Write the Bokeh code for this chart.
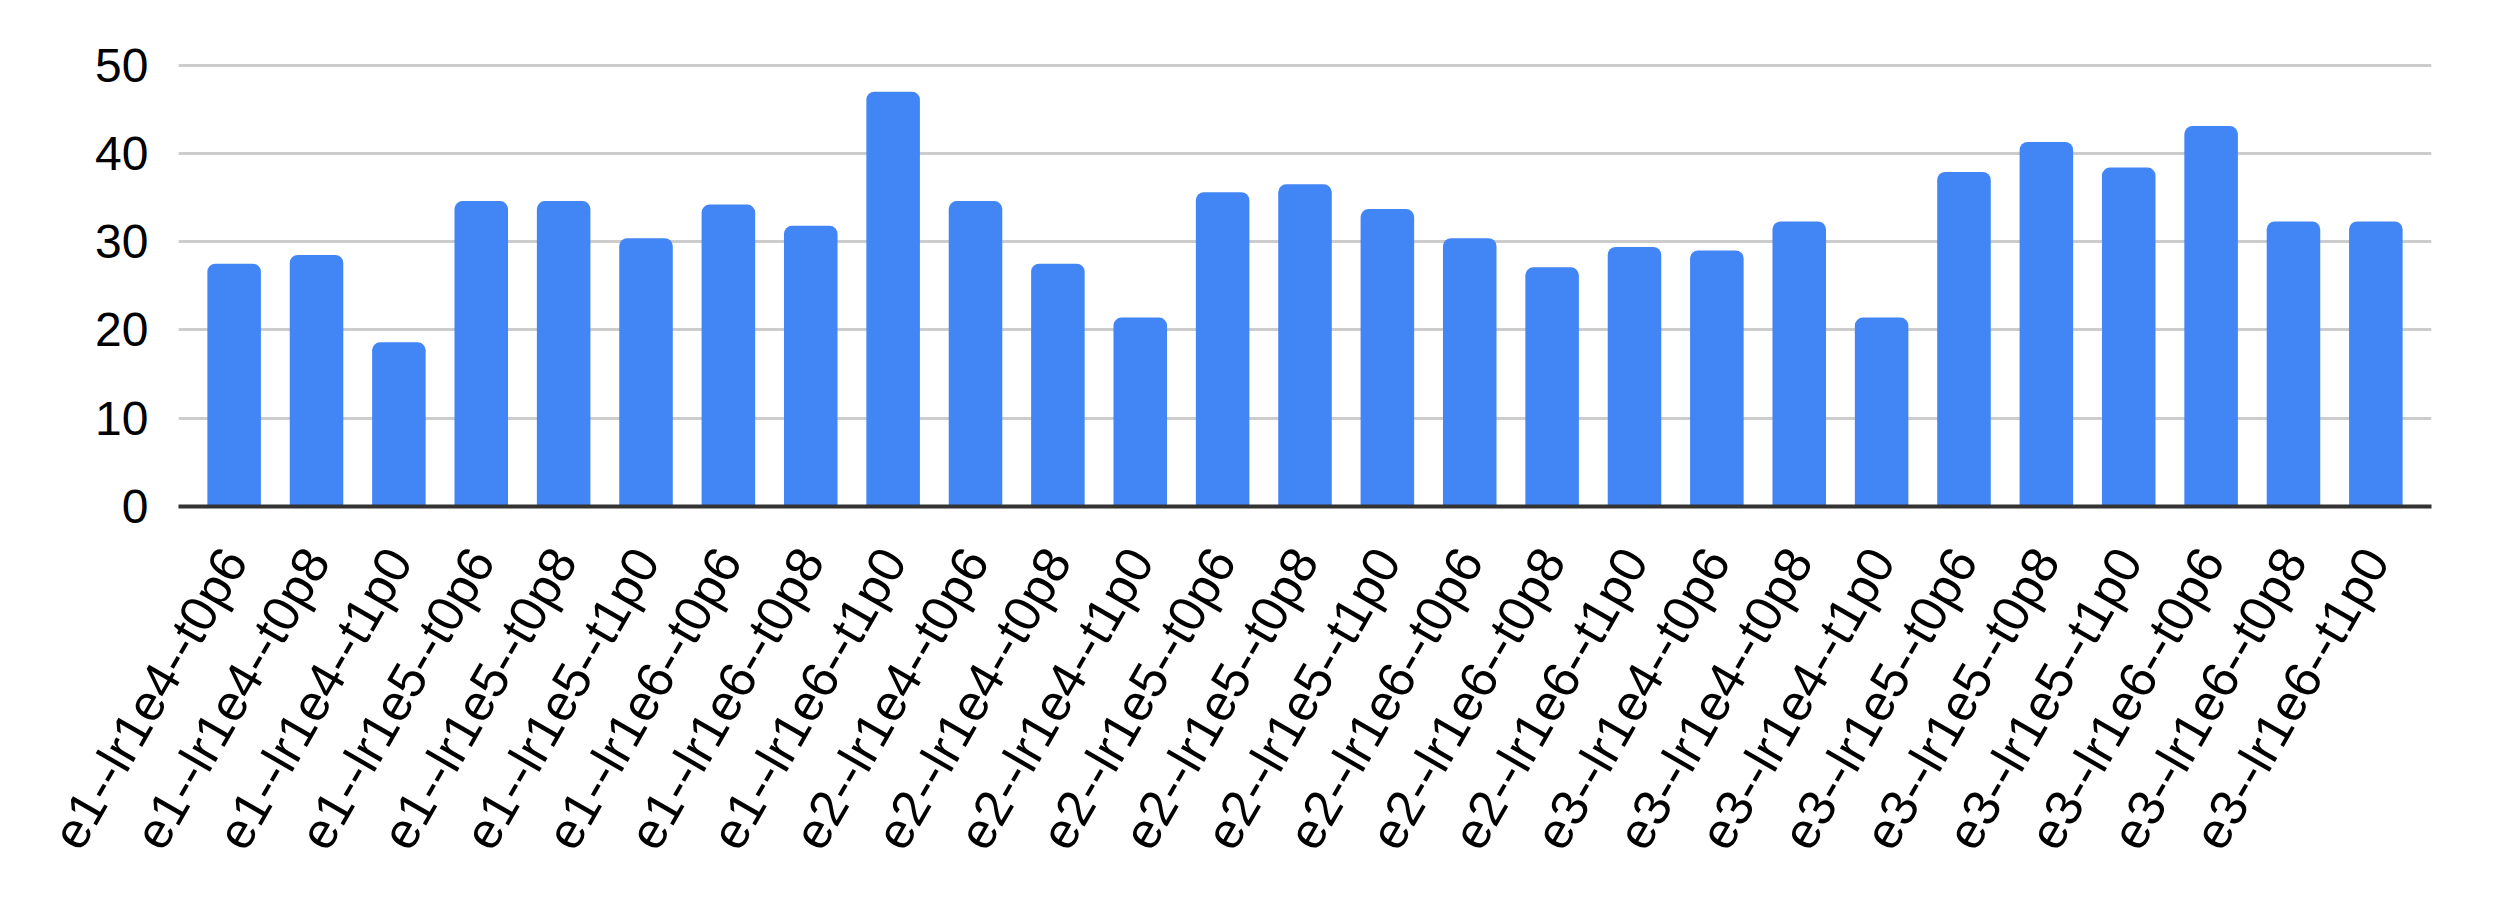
import math
from bokeh.plotting import figure
from bokeh.models import FactorRange, Range1d, FixedTicker
from bokeh.embed import file_html
from bokeh.resources import INLINE

categories = [
    "e1--lr1e4--t0p6", "e1--lr1e4--t0p8", "e1--lr1e4--t1p0",
    "e1--lr1e5--t0p6", "e1--lr1e5--t0p8", "e1--lr1e5--t1p0",
    "e1--lr1e6--t0p6", "e1--lr1e6--t0p8", "e1--lr1e6--t1p0",
    "e2--lr1e4--t0p6", "e2--lr1e4--t0p8", "e2--lr1e4--t1p0",
    "e2--lr1e5--t0p6", "e2--lr1e5--t0p8", "e2--lr1e5--t1p0",
    "e2--lr1e6--t0p6", "e2--lr1e6--t0p8", "e2--lr1e6--t1p0",
    "e3--lr1e4--t0p6", "e3--lr1e4--t0p8", "e3--lr1e4--t1p0",
    "e3--lr1e5--t0p6", "e3--lr1e5--t0p8", "e3--lr1e5--t1p0",
    "e3--lr1e6--t0p6", "e3--lr1e6--t0p8", "e3--lr1e6--t1p0",
]
values = [
    27.5, 28.5, 18.6,
    34.6, 34.6, 30.4,
    34.2, 31.8, 47.0,
    34.6, 27.5, 21.4,
    35.6, 36.5, 33.7,
    30.4, 27.1, 29.4,
    29.0, 32.3, 21.4,
    37.9, 41.3, 38.4,
    43.1, 32.3, 32.3,
]
y_ticks = [0, 10, 20, 30, 40, 50]

FONT = "Liberation Sans"

p = figure(
    x_range=FactorRange(factors=categories, range_padding=0.013),
    y_range=Range1d(0, 52),
    width=2484, height=905,
    min_border_left=178, min_border_right=53,
    min_border_top=47, min_border_bottom=399,
    output_backend="svg", toolbar_location=None,
)
p.outline_line_color = None
p.background_fill_color = "white"
p.border_fill_color = "white"

p.vbar(x=categories, top=values, width=0.65, color="#4285F4",
       line_color=None, border_radius=[8, 8, 0, 0])

p.xgrid.grid_line_color = None
p.ygrid.grid_line_color = "#cccccc"
p.ygrid.grid_line_width = 3
p.ygrid.ticker = FixedTicker(ticks=y_ticks)

p.yaxis.ticker = FixedTicker(ticks=y_ticks)
p.yaxis.axis_line_color = None
p.yaxis.major_tick_line_color = None
p.yaxis.minor_tick_line_color = None
p.yaxis.major_tick_out = 0
p.yaxis.major_label_standoff = 30
p.yaxis.major_label_text_font = FONT
p.yaxis.major_label_text_font_size = "48px"
p.yaxis.major_label_text_color = "#000000"

p.xaxis.axis_line_color = "#333333"
p.xaxis.axis_line_width = 4
p.xaxis.major_tick_line_color = None
p.xaxis.major_tick_out = 0
p.xaxis.major_label_orientation = math.pi / 3
p.xaxis.major_label_standoff = 46
p.xaxis.major_label_text_font = FONT
p.xaxis.major_label_text_font_size = "51px"
p.xaxis.major_label_text_color = "#000000"

open("out.html", "w").write(file_html(p, INLINE))
